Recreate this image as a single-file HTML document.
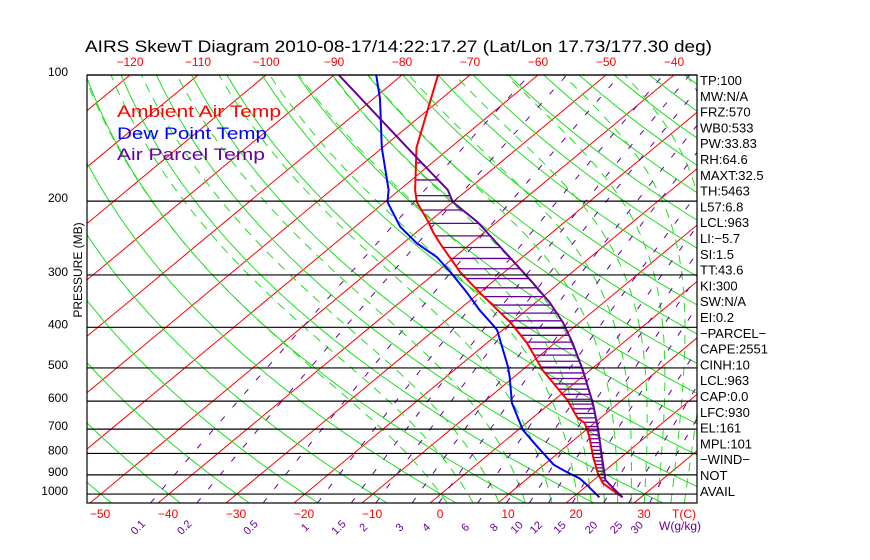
<!DOCTYPE html>
<html><head><meta charset="utf-8"><style>
html,body{margin:0;padding:0;background:#fff;width:870px;height:560px;overflow:hidden}
text{font-family:"Liberation Sans",sans-serif}
</style></head><body>
<svg id="chart" width="870" height="560" viewBox="0 0 870 560" xmlns="http://www.w3.org/2000/svg">
<defs><clipPath id="plotclip"><rect x="87" y="75" width="610" height="428"/></clipPath></defs>
<rect width="870" height="560" fill="#fff"/>
<text x="85" y="52" font-size="17" textLength="627" lengthAdjust="spacingAndGlyphs">AIRS SkewT Diagram 2010-08-17/14:22:17.27 (Lat/Lon 17.73/177.30 deg)</text>
<g id="grid" clip-path="url(#plotclip)"></g>
<g id="data" clip-path="url(#plotclip)"></g>
<g id="axes"></g>
<text x="117" y="117" font-size="17" fill="#ff0000" textLength="164" lengthAdjust="spacingAndGlyphs">Ambient Air Temp</text>
<text x="117" y="139" font-size="17" fill="#0000ff" textLength="150" lengthAdjust="spacingAndGlyphs">Dew Point Temp</text>
<text x="117" y="160" font-size="17" fill="#660099" textLength="148" lengthAdjust="spacingAndGlyphs">Air Parcel Temp</text>
<text transform="translate(82,270) rotate(-90)" text-anchor="middle" font-size="12">PRESSURE (MB)</text>
</svg>
<script>
// ---- data ----
const envP = [1018,942,892,815,730,677,659,596,506,436,390,331,296,252,237,224,201,188,149,100];
const envT = [27.3,21.9,19.4,15.8,11.7,8.6,6.7,1.9,-7.0,-14.1,-20.1,-29.9,-36.4,-44.6,-47.6,-50.1,-55.3,-57.7,-65,-74.7];
const dewP = [1018,942,917,886,851,771,703,606,526,498,406,395,364,331,296,272,252,230,201,188,149,114,100];
const dewT = [23.9,19.3,17.6,14.6,11.4,5.8,0.7,-5.7,-10.6,-12.6,-20.8,-22.3,-26.9,-31.8,-37.8,-42.6,-48,-53.4,-59.6,-61.6,-70.1,-79,-83.8];
const parP = [1018,953,925,815,703,606,506,436,390,350,314,272,237,224,201,188,161,100];
const parT = [27.3,23.4,21.7,17.1,11.8,6.2,-1.1,-7.4,-12.4,-17.8,-23.8,-31.9,-39.7,-42.9,-50,-52.9,-61.9,-89.3];
const pLevels = [100,200,300,400,500,600,700,800,900,1000];
const bottomT = [-50,-40,-30,-20,-10,0,10,20,30];
const topT = [-120,-110,-100,-90,-80,-70,-60,-50,-40];
const mixR = [0.1,0.2,0.5,1,1.5,2,3,4,6,8,10,12,15,20,25,30];
const mixLbl = ["0.1","0.2","0.5","1","1.5","2","3","4","6","8","10","12","15","20","25","30"];
const thetas = [-50,-40,-30,-20,-10,0,10,20,30,40,50,60,70,80,90,100,110,120,130,140,150,160,170,180,190,200,210,220];
const thetaW = [0,4,8,12,16,20,22,24,26,28,30,32,34,36,38,40];
const info = ["TP:100","MW:N/A","FRZ:570","WB0:533","PW:33.83","RH:64.6","MAXT:32.5","TH:5463","L57:6.8","LCL:963","LI:\u22125.7","SI:1.5","TT:43.6","KI:300","SW:N/A","EI:0.2","\u2212PARCEL\u2212","CAPE:2551","CINH:10","LCL:963","CAP:0.0","LFC:930","EL:161","MPL:101","\u2212WIND\u2212","NOT","AVAIL"];
const lfc = 930, el = 161;
// ---- axis functions ----
const NS="http://www.w3.org/2000/svg";
const yP = p => 75 + 182*Math.log(p/100);
const xT = (T,p) => 430 + 6.8*T + (503 - yP(p))*1.2056;
function mk(tag, attrs, parent){const e=document.createElementNS(NS,tag);for(const k in attrs)e.setAttribute(k,attrs[k]);parent.appendChild(e);return e;}
const grid=document.getElementById('grid'), data=document.getElementById('data'), axes=document.getElementById('axes');
function pathFrom(ps, ts){return ps.map((p,i)=>(i?'L':'M')+xT(ts[i],p).toFixed(1)+','+yP(p).toFixed(1)).join('');}
const pRange=[]; for(let p=1050;p>=100;p-=10) pRange.push(p);
// isotherms
for(let T=-160;T<=50;T+=10){
  const e=mk('line',{x1:xT(T,1050),y1:yP(1050),x2:xT(T,100),y2:yP(100),stroke:'#ff0000','stroke-width':1},grid);
  
  
}
// dry adiabats
thetas.forEach(th=>{
  const ts=pRange.map(p=>(th+273.15)*Math.pow(p/1000,0.2857)-273.15);
  const e=mk('path',{d:pathFrom(pRange,ts),fill:'none',stroke:'#22dd22','stroke-width':1},grid);
  
  
});
// moist adiabats
function es(T){return 6.112*Math.exp(17.67*T/(T+243.5));}
function moist(T0){
  const res={}; const step=-2;
  function run(dir){let T=T0+273.15;let p=1000;const out=[];
    while(dir<0?p>=100:p<=1050){out.push([p,T-273.15]);
      const rs=0.622*es(T-273.15)/(p-es(T-273.15));
      const num=287*T+2.5e6*rs, den=1004+2.5e6*2.5e6*rs*0.622/(287*T*T);
      const dlnp=Math.log((p+dir*5)/p); T+=num/den*dlnp; p+=dir*5;}
    return out;}
  const up=run(-1), dn=run(1).reverse();
  return dn.concat(up.slice(1));
}
thetaW.forEach(tw=>{
  const pts=moist(tw);
  const e=mk('path',{d:pathFrom(pts.map(a=>a[0]),pts.map(a=>a[1])),fill:'none',stroke:'#22dd22','stroke-width':1,'stroke-dasharray':'9 7'},grid);
  
  
});
// mixing ratio
function tdFromW(w,p){const e=w*p/(622+w);const l=Math.log(e/6.112);return 243.5*l/(17.67-l);}
mixR.forEach((w,i)=>{
  const ts=pRange.map(p=>tdFromW(w,p));
  const e=mk('path',{d:pathFrom(pRange,ts),fill:'none',stroke:'#660099','stroke-width':1,'stroke-dasharray':'6 12'},grid);
  
  
  const x=xT(tdFromW(w,1050),1050)-10;
  const t=mk('text',{x:x,y:530,'font-size':11,fill:'#660099',transform:`rotate(-45 ${x} 530)`,'text-anchor':'middle'},axes);
  t.textContent=mixLbl[i];
  
  
});
// isobars
pLevels.forEach(p=>{
  const l=mk('line',{x1:87,x2:697,y1:yP(p),y2:yP(p),stroke:'#000','stroke-width':1.2},axes);
  
  
  const t=mk('text',{x:68,y:yP(p)+1,'font-size':12,'text-anchor':'end'},axes);
  t.textContent=p;
  
  
});
const border=mk('rect',{x:87,y:75,width:610,height:428,fill:'none',stroke:'#000','stroke-width':1.2},axes);


bottomT.forEach(T=>{
  const t=mk('text',{x:xT(T,1050)+10,y:518,'font-size':12,fill:'#ff0000','text-anchor':'middle'},axes);
  t.textContent=(T<0?'\u2212'+(-T):T);
  
  
});
const tc=mk('text',{x:684,y:518,'font-size':12,fill:'#ff0000','text-anchor':'middle'},axes);
tc.textContent='T(C)';


const wg=mk('text',{x:680,y:530,'font-size':12,fill:'#660099','text-anchor':'middle'},axes);
wg.textContent='W(g/kg)';


topT.forEach(T=>{
  const t=mk('text',{x:xT(T,100),y:66,'font-size':12,fill:'#ff0000','text-anchor':'middle'},axes);
  t.textContent='\u2212'+(-T);
  
  
});
info.forEach((s,i)=>{
  const t=mk('text',{x:700,y:85+i*15.8,'font-size':13},axes);
  t.textContent=s;
  
  
});
// interpolation in log p for hatching
function interp(ps,ts,p){for(let i=0;i<ps.length-1;i++){if(p<=ps[i]&&p>=ps[i+1]){const f=Math.log(p/ps[i])/Math.log(ps[i+1]/ps[i]);return ts[i]+f*(ts[i+1]-ts[i]);}}return null;}
for(let p=lfc;p>=el;p-=16){
  const a=interp(envP,envT,p), b=interp(parP,parT,p);
  if(a===null||b===null||b<=a) continue;
  const l=mk('line',{x1:xT(a,p),x2:xT(b,p),y1:yP(p),y2:yP(p),stroke:'#660099','stroke-width':1.3},data);
  
  
}
const e1=mk('path',{d:pathFrom(envP,envT),fill:'none',stroke:'#ff0000','stroke-width':2},data);


const e2=mk('path',{d:pathFrom(dewP,dewT),fill:'none',stroke:'#0000ff','stroke-width':2},data);


const e3=mk('path',{d:pathFrom(parP,parT),fill:'none',stroke:'#660099','stroke-width':2},data);


</script>
</body></html>
